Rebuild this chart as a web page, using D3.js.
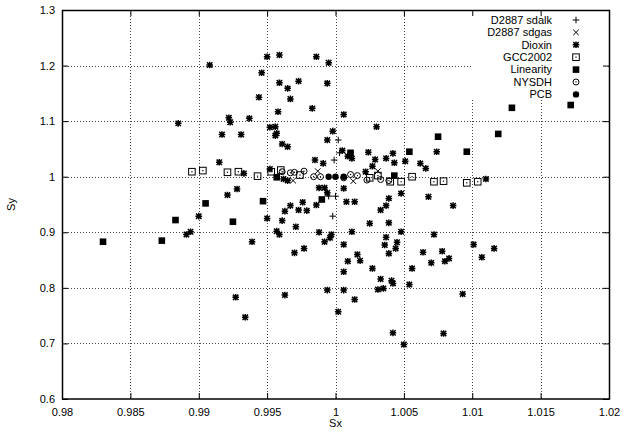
<!DOCTYPE html>
<html>
<head>
<meta charset="utf-8">
<script src="https://cdn.jsdelivr.net/npm/d3@7"></script>
<style>
  body { margin: 0; background: #fff; }
  text { font-family: "Liberation Sans", Arial, sans-serif; font-size: 11px; fill: #000; }
</style>
</head>
<body>
<div class="chart"></div>
<script>
// ticks
var xTicks = [0.98, 0.985, 0.99, 0.995, 1, 1.005, 1.01, 1.015, 1.02];
var yTicks = [0.6, 0.7, 0.8, 0.9, 1, 1.1, 1.2, 1.3];

// series, [Sx, Sy]
var sdalk = [[1.0002,1.066],[0.9999,1.030],[1.0003,1.043],[0.9995,0.965],[1.0000,0.965],[0.9998,0.929]];
var sdgas = [[0.9969,0.993],[0.9987,1.010],[1.0013,0.992],[1.0031,1.010]];
var dioxin = [
  [0.9950,1.216],[0.9959,1.219],[0.9986,1.216],[0.9995,1.205],[0.9908,1.201],[0.9946,1.187],[0.9959,1.169],
  [0.9973,1.172],[0.9994,1.168],[0.9965,1.159],[0.9944,1.143],[0.9967,1.140],[0.9983,1.123],[0.9958,1.117],
  [0.9885,1.096],[0.9922,1.106],[0.9923,1.098],[0.9937,1.105],[0.9952,1.089],[0.9956,1.090],[1.0006,1.112],
  [0.9957,1.078],[0.9956,1.074],[0.9917,1.076],[0.9931,1.076],[0.9961,1.059],[0.9965,1.054],[0.9998,1.082],
  [0.9994,1.066],[0.9915,1.026],[0.9933,1.006],[0.9952,1.014],[0.9985,1.030],[0.9991,1.024],[1.0030,1.090],
  [1.0005,1.047],[1.0009,1.037],[1.0012,1.033],[1.0024,1.044],[1.0042,1.042],[1.0029,1.031],[1.0037,1.033],
  [1.0027,1.019],[1.0043,1.025],[1.0051,1.028],[1.0062,1.024],[1.0066,1.015],[1.0074,1.045],[1.0022,1.009],
  [1.0110,0.996],[0.9962,0.996],[0.9965,0.993],[0.9988,0.980],[0.9992,0.980],[0.9994,0.971],[0.9928,0.978],
  [0.9921,0.967],[1.0006,0.979],[1.0048,0.970],[1.0068,0.964],[1.0039,0.961],
  [0.9976,0.954],[0.9967,0.948],[0.9963,0.938],[0.9973,0.940],[0.9979,0.939],[0.9986,0.949],[0.9900,0.929],
  [0.9950,0.925],[0.9961,0.921],[0.9971,0.910],[0.9891,0.896],[0.9894,0.901],[0.9957,0.902],[0.9959,0.896],
  [0.9988,0.900],[0.9997,0.896],[0.9996,0.890],[0.9992,0.883],[0.9939,0.883],[0.9977,0.871],[0.9970,0.863],
  [1.0008,0.955],[1.0014,0.955],[1.0037,0.948],[1.0033,0.940],[1.0086,0.948],[1.0025,0.916],[1.0039,0.917],
  [1.0012,0.901],[1.0048,0.901],[1.0072,0.896],[1.0006,0.878],[1.0037,0.891],[1.0036,0.877],[1.0045,0.882],
  [1.0044,0.871],[1.0039,0.862],[1.0101,0.878],[1.0116,0.871],[1.0016,0.860],[1.0009,0.848],[1.0018,0.849],
  [1.0064,0.864],[1.0078,0.866],[1.0070,0.845],[1.0080,0.848],[1.0083,0.853],[1.0107,0.855],[1.0006,0.829],
  [1.0027,0.835],[1.0056,0.835],[1.0033,0.816],[1.0041,0.813],[1.0042,0.808],[1.0054,0.806],[1.0006,0.796],
  [1.0031,0.797],[1.0035,0.799],[1.0014,0.779],[1.0093,0.789],[1.0002,0.757],[1.0042,0.719],[1.0079,0.718],
  [1.0050,0.698],[0.9927,0.783],[0.9934,0.747],[0.9963,0.787],[0.9994,0.796]
];
var gcc2002 = [[0.9895,1.009],[0.9903,1.011],[0.9921,1.008],[0.9929,1.009],[0.9943,1.001],[0.9953,1.009],
  [0.9960,1.012],[0.9974,1.003],[1.0025,0.998],[1.0031,1.002],[1.0040,0.991],[1.0048,0.991],[1.0056,1.000],
  [1.0072,0.991],[1.0079,0.992],[1.0096,0.989],[1.0104,0.991]];
var linearity = [[0.9830,0.883],[0.9873,0.885],[0.9883,0.922],[0.9905,0.952],[0.9925,0.919],[0.9947,0.956],
  [0.9957,0.999],[0.9990,0.959],[1.0011,1.043],[1.0043,1.002],[1.0054,1.045],[1.0075,1.072],[1.0096,1.045],
  [1.0119,1.077],[1.0129,1.124],[1.0172,1.129]];
var nysdh = [[0.9961,1.009],[0.9967,1.007],[0.9970,1.008],[0.9977,1.010],[0.9984,1.000],[0.9989,1.000],
  [1.0006,0.998],[1.0011,1.004],[1.0016,1.002],[1.0023,0.994],[1.0033,0.995],[1.0039,0.993]];
var pcb = [[0.9995,1.000],[1.0000,1.000],[1.0006,1.000]];

var series = [
  { name: 'D2887 sdalk', type: 'plus', data: sdalk },
  { name: 'D2887 sdgas', type: 'cross', data: sdgas },
  { name: 'Dioxin', type: 'star', data: dioxin },
  { name: 'GCC2002', type: 'boxdot', data: gcc2002 },
  { name: 'Linearity', type: 'box', data: linearity },
  { name: 'NYSDH', type: 'circdot', data: nysdh },
  { name: 'PCB', type: 'circ', data: pcb }
];

var margin = { top: 10, right: 14, bottom: 37, left: 62 };
var width = 623 - margin.left - margin.right;
var height = 436 - margin.top - margin.bottom;

var svg = d3.select('.chart')
  .append('svg')
    .attr('width', 623)
    .attr('height', 436)
  .append('g')
    .attr('transform', `translate(${margin.left}, ${margin.top})`);

var x = d3.scaleLinear().domain([0.98, 1.02]).range([0, width]);
var y = d3.scaleLinear().domain([0.6, 1.3]).range([height, 0]);

var fmt = function (d) { return String(+d.toFixed(3)); };

// grid
var grid = svg.append('g')
  .attr('stroke', '#444')
  .attr('stroke-width', 1)
  .attr('stroke-dasharray', '1,2');
grid.selectAll('.gx')
  .data(xTicks.slice(1, -1))
  .enter().append('line')
    .attr('x1', d => Math.round(x(d)) + 0.5)
    .attr('x2', d => Math.round(x(d)) + 0.5)
    .attr('y1', 0)
    .attr('y2', height);
grid.selectAll('.gy')
  .data(yTicks.slice(1, -1))
  .enter().append('line')
    .attr('y1', d => Math.round(y(d)) + 0.5)
    .attr('y2', d => Math.round(y(d)) + 0.5)
    .attr('x1', 0)
    .attr('x2', width);

// key area is cleared
svg.append('rect')
  .attr('x', 409)
  .attr('y', 1)
  .attr('width', width - 410)
  .attr('height', 89)
  .attr('fill', '#fff');

// axes
var xAxis = d3.axisBottom(x).tickValues(xTicks).tickFormat(fmt).tickSize(-6).tickSizeOuter(0).tickPadding(9);
var yAxis = d3.axisLeft(y).tickValues(yTicks).tickFormat(fmt).tickSize(-6).tickSizeOuter(0).tickPadding(7);
var xTop = d3.axisTop(x).tickValues(xTicks).tickFormat('').tickSize(-6).tickSizeOuter(0);
var yRight = d3.axisRight(y).tickValues(yTicks).tickFormat('').tickSize(-6).tickSizeOuter(0);

function styleAxis(g) {
  g.select('.domain').remove();
  g.selectAll('text').style('font-family', '"Liberation Sans", Arial, sans-serif').style('font-size', '11px');
}

svg.append('g').attr('transform', `translate(0, ${height})`).call(xAxis).call(styleAxis);
svg.append('g').call(yAxis).call(styleAxis);
svg.append('g').call(xTop).call(styleAxis);
svg.append('g').attr('transform', `translate(${width}, 0)`).call(yRight).call(styleAxis);

svg.append('rect')
  .attr('x', 0.5)
  .attr('y', 0.5)
  .attr('width', width)
  .attr('height', height - 0.5)
  .attr('fill', 'none')
  .attr('stroke', '#000')
  .attr('stroke-width', 1.5);

// markers
function marker(g, type, cx, cy) {
  var s = 3.3;
  if (type === 'plus') {
    g.append('path').attr('d', `M${cx - s},${cy}H${cx + s}M${cx},${cy - s}V${cy + s}`)
      .attr('stroke', '#000').attr('stroke-width', 1);
  } else if (type === 'cross') {
    var c = 2.8;
    g.append('path').attr('d', `M${cx - c},${cy - c}L${cx + c},${cy + c}M${cx - c},${cy + c}L${cx + c},${cy - c}`)
      .attr('stroke', '#000').attr('stroke-width', 1);
  } else if (type === 'star') {
    var c2 = 2.7;
    g.append('path').attr('d', `M${cx - s},${cy}H${cx + s}M${cx},${cy - s}V${cy + s}` +
        `M${cx - c2},${cy - c2}L${cx + c2},${cy + c2}M${cx - c2},${cy + c2}L${cx + c2},${cy - c2}`)
      .attr('stroke', '#000').attr('stroke-width', 1.5);
  } else if (type === 'boxdot') {
    g.append('rect').attr('x', cx - 3.3).attr('y', cy - 3.3).attr('width', 6.6).attr('height', 6.6)
      .attr('fill', 'none').attr('stroke', '#000').attr('stroke-width', 1);
    g.append('rect').attr('x', cx - 0.6).attr('y', cy - 0.6).attr('width', 1.2).attr('height', 1.2).attr('fill', '#000');
  } else if (type === 'box') {
    g.append('rect').attr('x', cx - 3.3).attr('y', cy - 3.3).attr('width', 6.6).attr('height', 6.6).attr('fill', '#000');
  } else if (type === 'circdot') {
    g.append('circle').attr('cx', cx).attr('cy', cy).attr('r', 3)
      .attr('fill', 'none').attr('stroke', '#000').attr('stroke-width', 1);
    g.append('circle').attr('cx', cx).attr('cy', cy).attr('r', 0.7).attr('fill', '#000');
  } else if (type === 'circ') {
    g.append('circle').attr('cx', cx).attr('cy', cy).attr('r', 3.2).attr('fill', '#000');
  }
}

series.forEach(function (sr) {
  var g = svg.append('g');
  sr.data.forEach(function (d) { marker(g, sr.type, x(d[0]), y(d[1])); });
});

// key
var key = svg.append('g');
series.forEach(function (sr, i) {
  var ky = 10 + i * 12.4;
  key.append('text')
    .attr('x', 490)
    .attr('y', ky)
    .attr('dy', '0.35em')
    .attr('text-anchor', 'end')
    .text(sr.name);
  marker(key, sr.type, 514, ky);
});

// axis labels
svg.append('text')
  .attr('x', width / 2)
  .attr('y', height + 28)
  .attr('text-anchor', 'middle')
  .text('Sx');
svg.append('text')
  .attr('transform', `translate(${-47}, ${height / 2}) rotate(-90)`)
  .attr('text-anchor', 'middle')
  .text('Sy');
</script>
</body>
</html>
